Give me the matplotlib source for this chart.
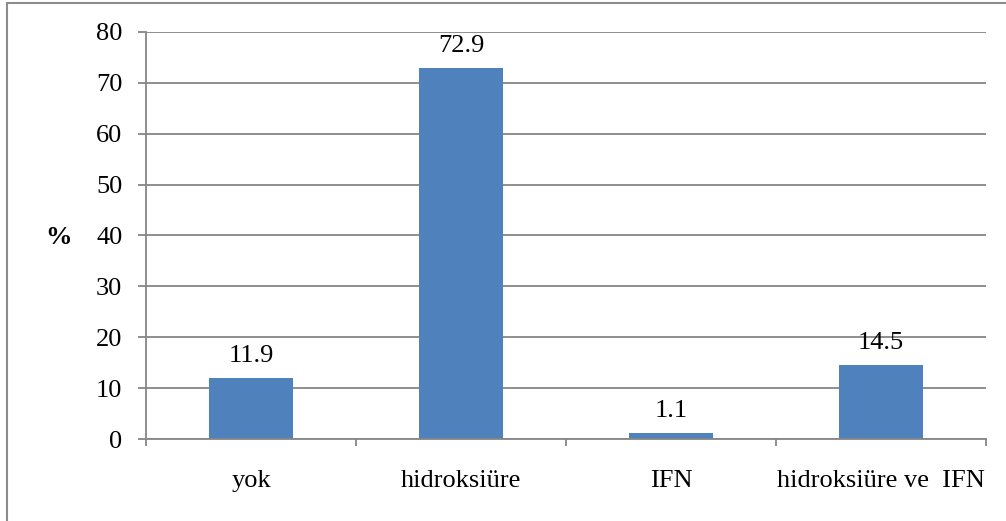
import matplotlib.pyplot as plt
from matplotlib.patches import Rectangle

# treatment groups and their share in percent
categories = ["yok", "hidroksiüre", "IFN", "hidroksiüre ve  IFN"]
values = [11.9, 72.9, 1.1, 14.5]
yticks = [0, 10, 20, 30, 40, 50, 60, 70, 80]

plt.rcParams['font.family'] = ['Liberation Serif', 'DejaVu Serif']

bar_color = "#4F81BD"
line_color = "#868686"
fs = 19

fig = plt.figure(figsize=(10.06, 5.21), dpi=100)
ax = fig.add_axes([146 / 1006, 1 - 439 / 521, 840 / 1006, 407 / 521])

xs = range(len(categories))
ax.bar(xs, values, width=0.4, color=bar_color, zorder=3)

for x, v in zip(xs, values):
    ax.annotate(f"{v}", (x, v), xytext=(0, 8), textcoords="offset points",
                ha="center", va="bottom", fontsize=fs)

ax.set_xlim(-0.5, len(categories) - 0.5)
ax.set_ylim(0, 80)
ax.set_yticks(yticks)
ax.yaxis.grid(True, color=line_color, linewidth=1.3, zorder=0)
ax.tick_params(axis="y", length=5.5, color=line_color, width=1.3,
               labelsize=fs, pad=11.5)

# boundary ticks between categories, labels centred underneath
ax.set_xticks([i - 0.5 for i in range(len(categories) + 1)])
ax.set_xticklabels([])
ax.tick_params(axis="x", which="major", length=5, color=line_color, width=1.3)
ax.set_xticks(list(xs), minor=True)
ax.set_xticklabels(categories, minor=True)
ax.tick_params(axis="x", which="minor", length=0, labelsize=fs, pad=22)

for side in ("top", "right"):
    ax.spines[side].set_visible(False)
for side in ("left", "bottom"):
    ax.spines[side].set_color(line_color)
    ax.spines[side].set_linewidth(1.3)
    ax.spines[side].set_zorder(4)

fig.text(58 / 1006, 1 - 237 / 521, "%", fontsize=fs, fontweight="bold",
         ha="center", va="center")

# light frame around the chart, running off the right and bottom edges
fig.patches.append(Rectangle((7 / 1006, -0.05), 1.1, 1 - 3 / 521 + 0.05,
                             transform=fig.transFigure, fill=False,
                             edgecolor="#8c8c8c", linewidth=1.5))

fig.savefig("out.png", dpi=100)
